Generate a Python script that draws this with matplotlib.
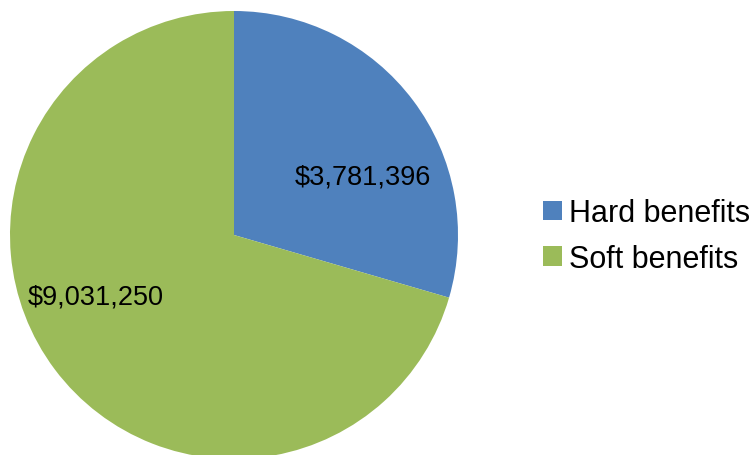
import matplotlib
matplotlib.use("Agg")
import matplotlib.pyplot as plt
from matplotlib.patches import Patch

categories = ["Hard benefits", "Soft benefits"]
values = [3781396, 9031250]
value_labels = ["$3,781,396", "$9,031,250"]
colors = ["#4F81BD", "#9BBB59"]

plt.rcParams['font.family'] = ['Liberation Sans', 'DejaVu Sans']

fig = plt.figure(figsize=(7.54, 4.56), dpi=100)
ax = fig.add_axes([0, 0, 1, 1])

cx, cy, r = 234, 220, 224
wedges, _ = ax.pie(values, colors=colors, startangle=90, counterclock=False,
                   center=(cx, cy), radius=r, frame=True,
                   wedgeprops=dict(linewidth=0))
ax.set_xlim(0, 754)
ax.set_ylim(0, 456)
ax.set_aspect('equal')
ax.axis('off')

label_pos = [(363, 279), (96, 158)]
for (x, y), t in zip(label_pos, value_labels):
    ax.text(x, y, t, ha='center', va='center', fontsize=19.5, color='black')

handles = [Patch(facecolor=c, edgecolor='none') for c in colors]
leg = fig.legend(handles, categories, loc='center left', bbox_to_anchor=(0.7205, 0.48),
                 frameon=False, fontsize=22, handlelength=0.6, handleheight=0.6,
                 handletextpad=0.25, labelspacing=0.5, borderaxespad=0, borderpad=0)

fig.savefig("out.png", dpi=100)
